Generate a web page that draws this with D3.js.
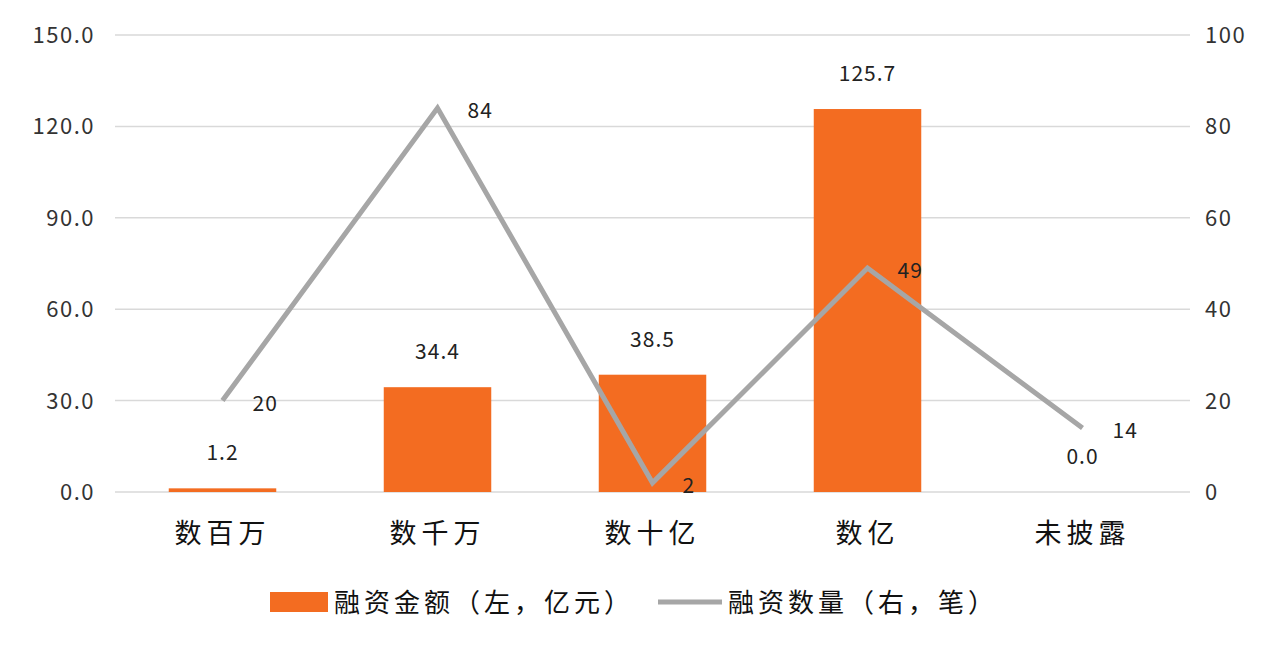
<!DOCTYPE html>
<html><head><meta charset="utf-8">
<script src="https://cdn.jsdelivr.net/npm/d3@7"></script>
<style>body{margin:0;background:#fff;font-family:"Noto Sans CJK SC","Noto Sans",sans-serif}</style>
</head><body><svg id="c" width="1280" height="650"></svg>
<script>
const categories=["数百万","数千万","数十亿","数亿","未披露"];
const amounts=[1.2,34.4,38.5,125.7,0.0];
const counts=[20,84,2,49,14];
const leftTicks=[0,30,60,90,120,150];
const rightTicks=[0,20,40,60,80,100];
const svg=d3.select("#c");
const L=115,R=1190,T=35,B=492;
const x=d3.scaleBand().domain(categories).range([L,R]).paddingInner(0.5).paddingOuter(0.25);
const yL=d3.scaleLinear().domain([0,150]).range([B,T]);
const yR=d3.scaleLinear().domain([0,100]).range([B,T]);
svg.append("g").selectAll("line").data(leftTicks).join("line")
 .attr("x1",L).attr("x2",R).attr("y1",d=>yL(d)).attr("y2",d=>yL(d)).attr("stroke","#d9d9d9").attr("stroke-width",1.5);
svg.append("g").selectAll("text").data(leftTicks).join("text")
 .attr("x",95).attr("y",d=>yL(d)+8).attr("text-anchor","end").attr("font-size",22).attr("letter-spacing",1.5).attr("fill","#333").text(d=>d.toFixed(1));
svg.append("g").selectAll("text").data(rightTicks).join("text")
 .attr("x",1205).attr("y",d=>yR(d)+8).attr("font-size",22).attr("letter-spacing",1.5).attr("fill","#333").text(d=>d);
svg.append("g").selectAll("rect").data(amounts).join("rect")
 .attr("x",(d,i)=>x(categories[i])).attr("width",x.bandwidth())
 .attr("y",d=>yL(d)).attr("height",d=>B-yL(d)).attr("fill","#f36c21");
svg.append("g").selectAll("text").data(amounts).join("text")
 .attr("x",(d,i)=>x(categories[i])+x.bandwidth()/2).attr("y",d=>yL(d)-28)
 .attr("text-anchor","middle").attr("font-size",21).attr("letter-spacing",1).attr("fill","#222").text(d=>d.toFixed(1));
const cx=i=>x(categories[i])+x.bandwidth()/2;
svg.append("path").datum(counts).attr("fill","none").attr("stroke","#a6a6a6").attr("stroke-width",5)
 .attr("d",d3.line().x((d,i)=>cx(i)).y(d=>yR(d)));
svg.append("g").selectAll("text").data(counts).join("text")
 .attr("x",(d,i)=>cx(i)+30).attr("y",d=>yR(d)+10).attr("font-size",21).attr("letter-spacing",1).attr("fill","#222").text(d=>d);
svg.append("g").selectAll("text").data(categories).join("text")
 .attr("x",(d,i)=>cx(i)).attr("y",543).attr("text-anchor","middle").attr("font-size",27).attr("letter-spacing",5).attr("fill","#111").text(d=>d);
svg.append("rect").attr("x",270).attr("y",592).attr("width",58).attr("height",20).attr("fill","#f36c21");
svg.append("text").attr("x",334).attr("y",612).attr("font-size",26).attr("letter-spacing",4).attr("fill","#111").text("融资金额（左，亿元）");
svg.append("line").attr("x1",658).attr("x2",722).attr("y1",602).attr("y2",602).attr("stroke","#a6a6a6").attr("stroke-width",5);
svg.append("text").attr("x",728).attr("y",612).attr("font-size",26).attr("letter-spacing",4).attr("fill","#111").text("融资数量（右，笔）");
</script></body></html>
